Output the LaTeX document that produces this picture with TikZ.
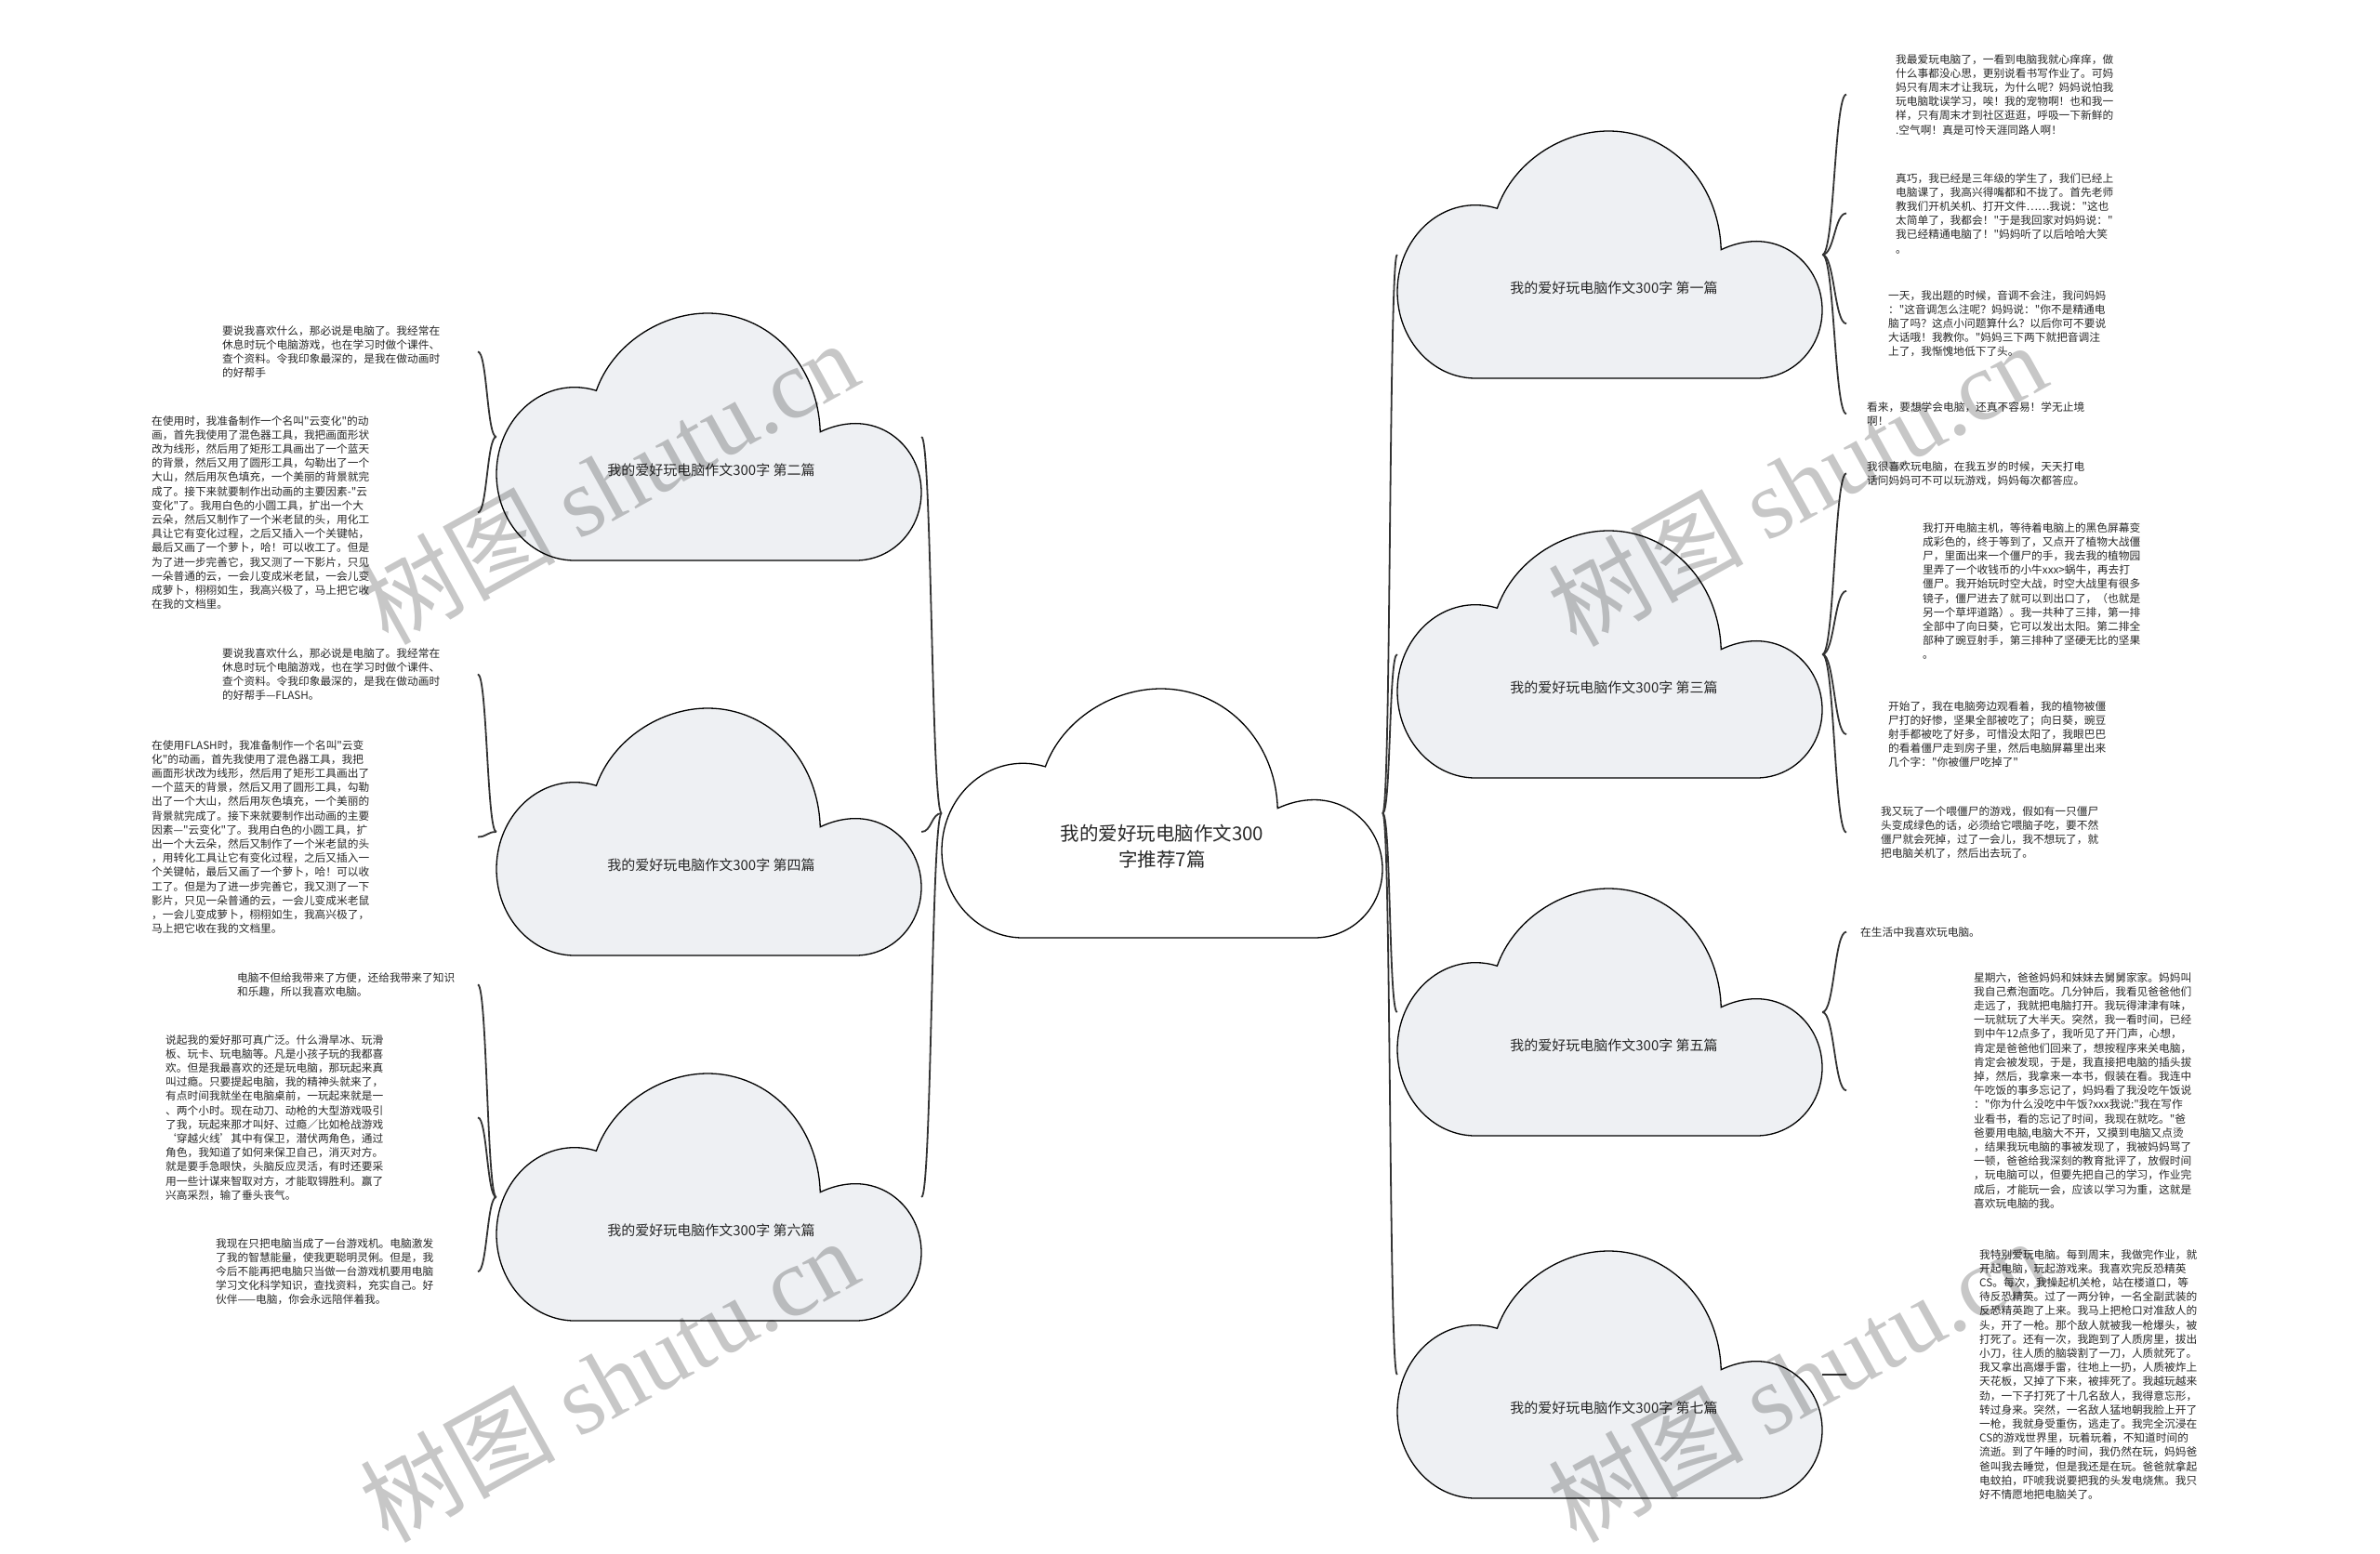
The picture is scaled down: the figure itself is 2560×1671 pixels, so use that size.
\documentclass[tikz,border=0pt]{standalone}
\usepackage{fontspec}
\setmainfont{Noto Sans CJK SC}
\newfontfamily\cjkmain{Noto Sans CJK SC}
\newfontfamily\wmserif{Liberation Serif}
\definecolor{cloudfill}{RGB}{238,240,243}
\definecolor{linegray}{RGB}{51,51,51}
\definecolor{txtgray}{RGB}{40,40,40}
\tikzset{
  conn/.style={draw=linegray, line width=1.8pt},
  cloudline/.style={draw=black, line width=1.3pt},
  txt/.style={anchor=north west, inner sep=0pt, align=left, text=txtgray, font=\cjkmain\fontsize{11.7pt}{15.2pt}\selectfont},
  lbl/.style={inner sep=0pt, align=center, text=txtgray, font=\cjkmain\fontsize{15pt}{18pt}\selectfont},
  box/.style={inner sep=0pt, minimum width=457pt, minimum height=266pt},
  wm/.style={text opacity=0.22, inner sep=0pt, font=\cjkmain\fontsize{105pt}{110pt}\selectfont}
}
\newcommand\cloudpath[5]{%
  \begin{scope}[shift={(#1,#2)},xscale=#3,yscale=#4]
    \draw[cloudline,fill=#5] (0.184,1) .. controls (0.082,1) and (0,0.843) .. (0,0.650)
      .. controls (0,0.457) and (0.082,0.2995) .. (0.184,0.2995)
      .. controls (0.201,0.2995) and (0.218,0.304) .. (0.235,0.313)
      .. controls (0.274,0.123) and (0.388,0) .. (0.497,0)
      .. controls (0.641,0) and (0.757,0.205) .. (0.762,0.48)
      .. controls (0.788,0.459) and (0.816,0.446) .. (0.845,0.446)
      .. controls (0.932,0.446) and (1,0.571) .. (1,0.724)
      .. controls (1,0.877) and (0.932,1) .. (0.845,1)
      -- cycle;
  \end{scope}}
\begin{document}
\begin{tikzpicture}[x=1pt,y=-1pt]
\fill[white] (0,0) rectangle (2560,1671);
\useasboundingbox (0,0) rectangle (2560,1671);

% anchor nodes for clouds
\node[inner sep=0pt, minimum width=474pt, minimum height=268pt] (c) at (1250,875) {};
\node[box] (n1) at (1731.5,274) {};
\node[box] (n2) at (762.5,470) {};
\node[box] (n3) at (1731.5,704) {};
\node[box] (n4) at (762.5,895) {};
\node[box] (n5) at (1731.5,1089) {};
\node[box] (n6) at (762.5,1288) {};
\node[box] (n7) at (1731.5,1479) {};
\coordinate (xl) at (514,0);
\coordinate (xr) at (1986,0);

% text nodes, left
\node[txt] (L2a) at (239,350) {要说我喜欢什么，那必说是电脑了。我经常在\\休息时玩个电脑游戏，也在学习时做个课件、\\查个资料。令我印象最深的，是我在做动画时\\的好帮手};
\node[txt] (L2b) at (163,447) {在使用时，我准备制作一个名叫"云变化"的动\\画，首先我使用了混色器工具，我把画面形状\\改为线形，然后用了矩形工具画出了一个蓝天\\的背景，然后又用了圆形工具，勾勒出了一个\\大山，然后用灰色填充，一个美丽的背景就完\\成了。接下来就要制作出动画的主要因素-"云\\变化"了。我用白色的小圆工具，扩出一个大\\云朵，然后又制作了一个米老鼠的头，用化工\\具让它有变化过程，之后又插入一个关键帖，\\最后又画了一个萝卜，哈！可以收工了。但是\\为了进一步完善它，我又测了一下影片，只见\\一朵普通的云，一会儿变成米老鼠，一会儿变\\成萝卜，栩栩如生，我高兴极了，马上把它收\\在我的文档里。};
\node[txt] (L4a) at (239,697) {要说我喜欢什么，那必说是电脑了。我经常在\\休息时玩个电脑游戏，也在学习时做个课件、\\查个资料。令我印象最深的，是我在做动画时\\的好帮手—FLASH。};
\node[txt] (L4b) at (163,796) {在使用FLASH时，我准备制作一个名叫"云变\\化"的动画，首先我使用了混色器工具，我把\\画面形状改为线形，然后用了矩形工具画出了\\一个蓝天的背景，然后又用了圆形工具，勾勒\\出了一个大山，然后用灰色填充，一个美丽的\\背景就完成了。接下来就要制作出动画的主要\\因素—"云变化"了。我用白色的小圆工具，扩\\出一个大云朵，然后又制作了一个米老鼠的头\\，用转化工具让它有变化过程，之后又插入一\\个关键帖，最后又画了一个萝卜，哈！可以收\\工了。但是为了进一步完善它，我又测了一下\\影片，只见一朵普通的云，一会儿变成米老鼠\\，一会儿变成萝卜，栩栩如生，我高兴极了，\\马上把它收在我的文档里。};
\node[txt] (L6a) at (255,1046) {电脑不但给我带来了方便，还给我带来了知识\\和乐趣，所以我喜欢电脑。};
\node[txt] (L6b) at (178,1113) {说起我的爱好那可真广泛。什么滑旱冰、玩滑\\板、玩卡、玩电脑等。凡是小孩子玩的我都喜\\欢。但是我最喜欢的还是玩电脑，那玩起来真\\叫过瘾。只要提起电脑，我的精神头就来了，\\有点时间我就坐在电脑桌前，一玩起来就是一\\、两个小时。现在动刀、动枪的大型游戏吸引\\了我，玩起来那才叫好、过瘾／比如枪战游戏\\‘穿越火线’其中有保卫，潜伏两角色，通过\\角色，我知道了如何来保卫自己，消灭对方。\\就是要手急眼快，头脑反应灵活，有时还要采\\用一些计谋来智取对方，才能取锝胜利。赢了\\兴高采烈，输了垂头丧气。};
\node[txt] (L6c) at (232,1332) {我现在只把电脑当成了一台游戏机。电脑激发\\了我的智慧能量，使我更聪明灵俐。但是，我\\今后不能再把电脑只当做一台游戏机要用电脑\\学习文化科学知识，查找资料，充实自己。好\\伙伴——电脑，你会永远陪伴着我。};

% text nodes, right
\node[txt] (R1a) at (2039,58) {我最爱玩电脑了，一看到电脑我就心痒痒，做\\什么事都没心思，更别说看书写作业了。可妈\\妈只有周末才让我玩，为什么呢？妈妈说怕我\\玩电脑耽误学习，唉！我的宠物啊！也和我一\\样，只有周末才到社区逛逛，呼吸一下新鲜的\\.空气啊！真是可怜天涯同路人啊！};
\node[txt] (R1b) at (2039,186) {真巧，我已经是三年级的学生了，我们已经上\\电脑课了，我高兴得嘴都和不拢了。首先老师\\教我们开机关机、打开文件……我说："这也\\太简单了，我都会！"于是我回家对妈妈说："\\我已经精通电脑了！"妈妈听了以后哈哈大笑\\。};
\node[txt] (R1c) at (2031,312) {一天，我出题的时候，音调不会注，我问妈妈\\："这音调怎么注呢？妈妈说："你不是精通电\\脑了吗？这点小问题算什么？以后你可不要说\\大话哦！我教你。"妈妈三下两下就把音调注\\上了，我惭愧地低下了头。};
\node[txt] (R1d) at (2008,432) {看来，要想学会电脑，还真不容易！学无止境\\啊！};
\node[txt] (R3a) at (2008,496) {我很喜欢玩电脑，在我五岁的时候，天天打电\\话问妈妈可不可以玩游戏，妈妈每次都答应。};
\node[txt] (R3b) at (2068,562) {我打开电脑主机，等待着电脑上的黑色屏幕变\\成彩色的，终于等到了，又点开了植物大战僵\\尸，里面出来一个僵尸的手，我去我的植物园\\里弄了一个收钱币的小牛xxx>蜗牛，再去打\\僵尸。我开始玩时空大战，时空大战里有很多\\镜子，僵尸进去了就可以到出口了，（也就是\\另一个草坪道路）。我一共种了三排，第一排\\全部中了向日葵，它可以发出太阳。第二排全\\部种了豌豆射手，第三排种了坚硬无比的坚果\\。};
\node[txt] (R3c) at (2031,754) {开始了，我在电脑旁边观看着，我的植物被僵\\尸打的好惨，坚果全部被吃了；向日葵，豌豆\\射手都被吃了好多，可惜没太阳了，我眼巴巴\\的看着僵尸走到房子里，然后电脑屏幕里出来\\几个字："你被僵尸吃掉了"};
\node[txt] (R3d) at (2023,867) {我又玩了一个喂僵尸的游戏，假如有一只僵尸\\头变成绿色的话，必须给它喂脑子吃，要不然\\僵尸就会死掉，过了一会儿，我不想玩了，就\\把电脑关机了，然后出去玩了。};
\node[txt] (R5a) at (2001,997) {在生活中我喜欢玩电脑。};
\node[txt] (R5b) at (2123,1046) {星期六，爸爸妈妈和妹妹去舅舅家家。妈妈叫\\我自己煮泡面吃。几分钟后，我看见爸爸他们\\走远了，我就把电脑打开。我玩得津津有味，\\一玩就玩了大半天。突然，我一看时间，已经\\到中午12点多了，我听见了开门声，心想，\\肯定是爸爸他们回来了，想按程序来关电脑，\\肯定会被发现，于是，我直接把电脑的插头拔\\掉，然后，我拿来一本书，假装在看。我连中\\午吃饭的事多忘记了，妈妈看了我没吃午饭说\\："你为什么没吃中午饭?xxx我说:"我在写作\\业看书，看的忘记了时间，我现在就吃。"爸\\爸要用电脑,电脑大不开，又摸到电脑又点烫\\，结果我玩电脑的事被发现了，我被妈妈骂了\\一顿，爸爸给我深刻的教育批评了，放假时间\\，玩电脑可以，但要先把自己的学习，作业完\\成后，才能玩一会，应该以学习为重，这就是\\喜欢玩电脑的我。};
\node[txt] (R7a) at (2129,1344) {我特别爱玩电脑。每到周末，我做完作业，就\\开起电脑，玩起游戏来。我喜欢完反恐精英\\CS。每次，我操起机关枪，站在楼道口，等\\待反恐精英。过了一两分钟，一名全副武装的\\反恐精英跑了上来。我马上把枪口对准敌人的\\头，开了一枪。那个敌人就被我一枪爆头，被\\打死了。还有一次，我跑到了人质房里，拔出\\小刀，往人质的脑袋割了一刀，人质就死了。\\我又拿出高爆手雷，往地上一扔，人质被炸上\\天花板，又掉了下来，被摔死了。我越玩越来\\劲，一下子打死了十几名敌人，我得意忘形，\\转过身来。突然，一名敌人猛地朝我脸上开了\\一枪，我就身受重伤，逃走了。我完全沉浸在\\CS的游戏世界里，玩着玩着，不知道时间的\\流逝。到了午睡的时间，我仍然在玩，妈妈爸\\爸叫我去睡觉，但是我还是在玩。爸爸就拿起\\电蚊拍，吓唬我说要把我的头发电烧焦。我只\\好不情愿地把电脑关了。};

% connectors centre -> clouds
\foreach \t in {n2,n4,n6} \draw[conn] (c.west) .. controls +(-11,0) and +(11,0) .. (\t.east);
\foreach \t in {n1,n3,n5,n7} \draw[conn] (c.east) .. controls +(9,0) and +(-9,0) .. (\t.west);
% connectors clouds -> texts
\foreach \t in {L2a,L2b} \draw[conn] (n2.west) .. controls +(-10,0) and +(10,0) .. (\t -| xl);
\foreach \t in {L4a,L4b} \draw[conn] (n4.west) .. controls +(-10,0) and +(10,0) .. (\t -| xl);
\foreach \t in {L6a,L6b,L6c} \draw[conn] (n6.west) .. controls +(-10,0) and +(10,0) .. (\t -| xl);
\foreach \t in {R1a,R1b,R1c,R1d} \draw[conn] (n1.east) .. controls +(13,0) and +(-13,0) .. (\t -| xr);
\foreach \t in {R3a,R3b,R3c,R3d} \draw[conn] (n3.east) .. controls +(13,0) and +(-13,0) .. (\t -| xr);
\foreach \t in {R5a,R5b} \draw[conn] (n5.east) .. controls +(13,0) and +(-13,0) .. (\t -| xr);
\draw[conn] (n7.east) .. controls +(13,0) and +(-13,0) .. (R7a -| xr);

% clouds
\cloudpath{1013}{741}{474}{268}{white}
\cloudpath{1503}{141}{457}{266}{cloudfill}
\cloudpath{534}{337}{457}{266}{cloudfill}
\cloudpath{1503}{571}{457}{266}{cloudfill}
\cloudpath{534}{762}{457}{266}{cloudfill}
\cloudpath{1503}{956}{457}{266}{cloudfill}
\cloudpath{534}{1155}{457}{266}{cloudfill}
\cloudpath{1503}{1346}{457}{266}{cloudfill}

% labels
\node[inner sep=0pt, align=center, text=txtgray, font=\cjkmain\fontsize{20.5pt}{28pt}\selectfont] (ct) at (1250,911) {我的爱好玩电脑作文300\\字推荐7篇};
\node[lbl] (t1) at (1736,310) {我的爱好玩电脑作文300字 第一篇};
\node[lbl] (t2) at (765,506) {我的爱好玩电脑作文300字 第二篇};
\node[lbl] (t3) at (1736,740) {我的爱好玩电脑作文300字 第三篇};
\node[lbl] (t4) at (765,931) {我的爱好玩电脑作文300字 第四篇};
\node[lbl] (t5) at (1736,1125) {我的爱好玩电脑作文300字 第五篇};
\node[lbl] (t6) at (765,1324) {我的爱好玩电脑作文300字 第六篇};
\node[lbl] (t7) at (1736,1515) {我的爱好玩电脑作文300字 第七篇};

% watermarks
\node[wm, rotate=29] (w1) at (655,518) {树图 {\wmserif shutu.cn}};
\node[wm, rotate=29] (w2) at (1933,520) {树图 {\wmserif shutu.cn}};
\node[wm, rotate=29] (w3) at (655,1484) {树图 {\wmserif shutu.cn}};
\node[wm, rotate=29] (w4) at (1933,1484) {树图 {\wmserif shutu.cn}};
\end{tikzpicture}
\end{document}
